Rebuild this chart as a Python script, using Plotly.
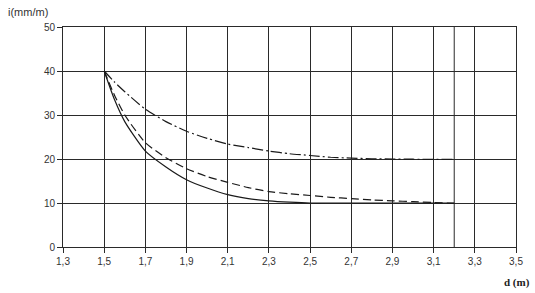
import plotly.graph_objects as go

# Data
d_values = [1.5, 1.55, 1.6, 1.7, 1.8, 1.9, 2.0, 2.1, 2.2, 2.3, 2.4, 2.5, 2.6, 2.7, 2.8, 2.9, 3.0, 3.1, 3.2]
i_solid = [40, 33.5, 28.5, 21.8, 18.2, 15.3, 13.4, 11.9, 11.0, 10.5, 10.2, 10.0, 10.0, 10.0, 10.0, 10.0, 10.0, 10.0, 10.0]
i_dashed = [40, 34.5, 30.0, 23.7, 20.3, 17.8, 16.0, 14.7, 13.5, 12.6, 12.1, 11.7, 11.3, 11.0, 10.7, 10.5, 10.3, 10.1, 9.9]
i_dashdot = [40, 37.5, 35.3, 31.3, 28.5, 26.3, 24.7, 23.4, 22.6, 21.8, 21.2, 20.8, 20.4, 20.2, 20.05, 20.0, 19.95, 19.9, 19.9]

x_ticks = [1.3, 1.5, 1.7, 1.9, 2.1, 2.3, 2.5, 2.7, 2.9, 3.1, 3.3, 3.5]
x_ticktext = ["1,3", "1,5", "1,7", "1,9", "2,1", "2,3", "2,5", "2,7", "2,9", "3,1", "3,3", "3,5"]
y_ticks = [0, 10, 20, 30, 40, 50]
extra_grid_x = [3.2]

line_col = "#1a1a1a"
grid_col = "#2a2a2a"

fig = go.Figure()
fig.add_trace(go.Scatter(x=d_values, y=i_solid, mode="lines",
                         line=dict(color=line_col, width=1.2, shape="spline", smoothing=0.6)))
fig.add_trace(go.Scatter(x=d_values, y=i_dashed, mode="lines",
                         line=dict(color=line_col, width=1.2, shape="spline", smoothing=0.6,
                                   dash="8px,4px")))
fig.add_trace(go.Scatter(x=d_values, y=i_dashdot, mode="lines",
                         line=dict(color=line_col, width=1.2, shape="spline", smoothing=0.6,
                                   dash="11px,3px,2px,3px")))

for gx in extra_grid_x:
    fig.add_shape(type="line", xref="x", yref="y", x0=gx, x1=gx, y0=0, y1=50,
                  line=dict(color=grid_col, width=1), layer="below")

tick_font = dict(family="Liberation Sans, Arial, sans-serif", size=10, color="#333333")

fig.update_xaxes(range=[1.3, 3.5], tickvals=x_ticks, ticktext=x_ticktext,
                 showgrid=True, gridcolor=grid_col, gridwidth=1,
                 zeroline=False, showline=True, linecolor=grid_col, linewidth=1, mirror=True,
                 ticks="outside", ticklen=5, tickcolor=grid_col, tickfont=tick_font)
fig.update_yaxes(range=[0, 50], tickvals=y_ticks,
                 showgrid=True, gridcolor=grid_col, gridwidth=1,
                 zeroline=False, showline=True, linecolor=grid_col, linewidth=1, mirror=True,
                 ticks="outside", ticklen=5, tickcolor=grid_col, tickfont=tick_font)

fig.add_annotation(text="i(mm/m)", xref="paper", yref="paper", x=-0.125, y=1.068,
                   xanchor="left", yanchor="middle", showarrow=False,
                   font=dict(family="Liberation Sans, Arial, sans-serif", size=11, color="#333333"))
fig.add_annotation(text="<b>d (m)</b>", xref="paper", yref="paper", x=1.035, y=-0.16,
                   xanchor="right", yanchor="middle", showarrow=False,
                   font=dict(family="Liberation Serif, Times New Roman, serif", size=11, color="#222222"))

fig.update_layout(width=535, height=293, margin=dict(l=63, r=13, t=27, b=46),
                  paper_bgcolor="white", plot_bgcolor="white", showlegend=False)

fig.write_html("out.html")
